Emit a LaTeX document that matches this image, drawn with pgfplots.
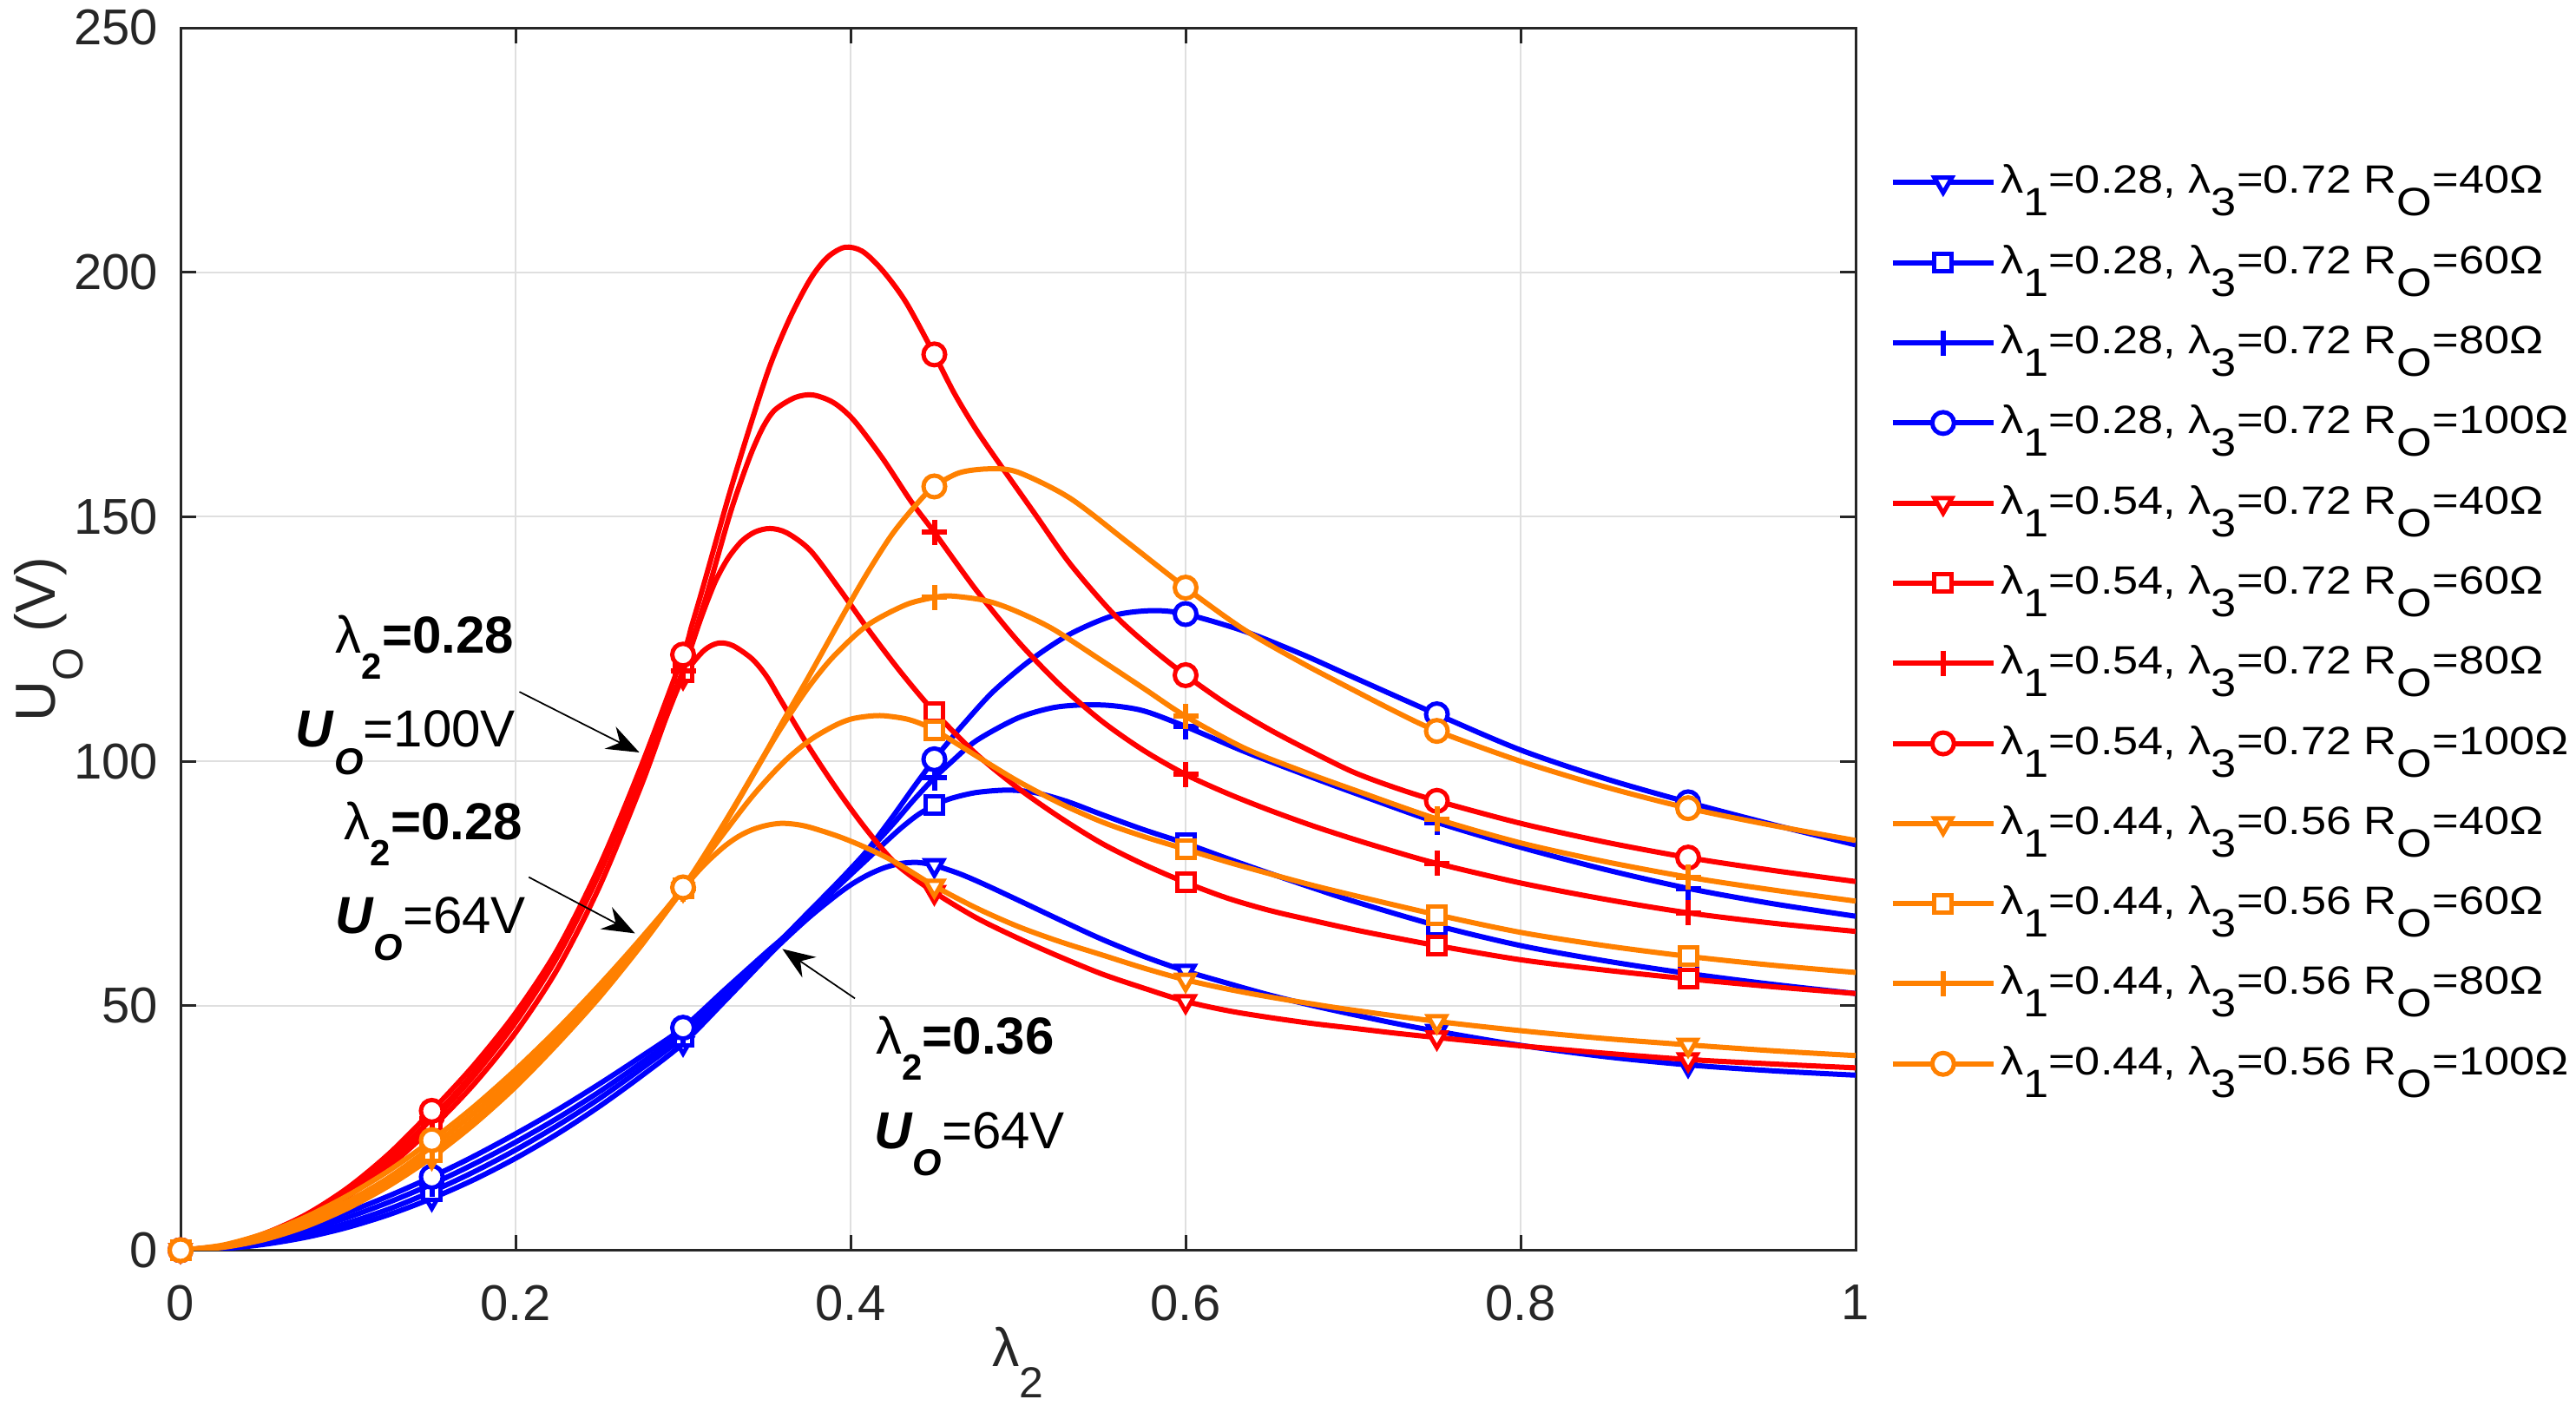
\documentclass[border=0pt]{standalone}
\usepackage{fontspec}
\setmainfont{Liberation Sans}
\usepackage{graphicx}
\usepackage{pgfplots}
\pgfplotsset{compat=1.18}
\usetikzlibrary{arrows.meta}
\definecolor{mblue}{RGB}{0,0,255}
\definecolor{mred}{RGB}{255,0,0}
\definecolor{morange}{RGB}{255,128,0}
\definecolor{axgray}{RGB}{38,38,38}
\definecolor{gridgray}{RGB}{223,223,223}
\pgfplotsset{
  ln/.style={line width=1.2pt},
  s40/.style={mark=triangle*, mark size=2.35pt, mark options={solid, rotate=180, fill=white, line width=1pt}},
  s60/.style={mark=square*, mark size=2.0pt, mark options={solid, fill=white, line width=1pt}},
  s80/.style={mark=+, mark size=2.9pt, mark options={solid, line width=1.2pt}},
  s100/.style={mark=*, mark size=2.5pt, mark options={solid, fill=white, line width=1pt}},
}
\newcommand{\sub}[1]{\raisebox{-5.2pt}{#1}}
\newcommand{\legtxt}[4]{\hspace*{1.0pt}\scalebox{1.15}[1]{λ\sub{1}=#1, λ\sub{3}=#2 R\sub{O}=#3Ω}}
\newcommand{\lamtwo}[1]{λ\raisebox{-6pt}{\fontsize{8.4}{9}\selectfont\bfseries 2}\textbf{=#1}}
\newcommand{\uo}[1]{\textbf{\textit{U}}\raisebox{-6.3pt}{\fontsize{8.6}{9}\selectfont\bfseries\itshape O}=#1V}
\begin{document}
\begin{tikzpicture}
\path[use as bounding box] (0pt,0pt) rectangle (593.6pt,323.8pt);
\begin{axis}[
  at={(41.6pt,35.7pt)}, anchor=south west,
  width=386pt, height=281.7pt, scale only axis,
  xmin=0, xmax=1, ymin=0, ymax=250,
  xtick={0,0.2,0.4,0.6,0.8,1}, xticklabels={0,0.2,0.4,0.6,0.8,1},
  ytick={0,50,100,150,200,250}, yticklabels={0,50,100,150,200,250},
  tick align=inside, major tick length=3.6pt,
  xtick pos=both, ytick pos=both,
  grid=major, major grid style={gridgray, line width=0.4pt},
  axis line style={axgray, line width=0.6pt},
  tick style={axgray, line width=0.6pt},
  /pgf/number format/assume math mode=true,
  ticklabel style={font=\fontsize{11.6}{13}\selectfont, text=axgray},
  xticklabel style={anchor=north, inner sep=0pt, yshift=-7.8pt},
  yticklabel style={anchor=east, inner sep=0pt, xshift=-5pt},
  clip mode=individual,
  xlabel={\fontsize{12.5}{14}\selectfont λ\raisebox{-7.2pt}{\fontsize{10}{11}\selectfont 2}},
  ylabel={\fontsize{13}{15}\selectfont U\raisebox{-6.4pt}{\fontsize{9.8}{10}\selectfont O} (V)},
  xlabel style={at={(axis description cs:0.5,-0.0948)}, anchor=base, text=axgray},
  ylabel style={at={(axis description cs:-0.0751,0.5)}, anchor=base, text=axgray},
  legend cell align=left,
  legend style={at={(1.0205,0.8964)}, anchor=north west, draw=none, fill=none,
    inner sep=0pt, outer sep=0pt, row sep=5.46pt,
    nodes={inner sep=0pt, text height=9pt, text depth=4pt, font=\fontsize{9.1}{10}\selectfont}},
  legend image code/.code={
    \draw[#1, mark=none] (0pt,0pt) -- (23.3pt,0pt);
    \draw[#1] plot coordinates {(11.65pt,0pt)};
  },
]
% ---------------- blue: lambda1=0.28, lambda3=0.72
\addplot[mblue, ln, smooth, forget plot] coordinates {(0,0) (0.025,0.3) (0.05,1.2) (0.075,2.65) (0.1,4.7) (0.125,7.35) (0.15,10.6) (0.175,14.4) (0.2,18.8) (0.225,23.8) (0.25,29.4) (0.275,35.6) (0.3,42.3) (0.325,51.0) (0.35,59.9) (0.36,63.3) (0.375,68.0) (0.39,72.2) (0.4,74.7) (0.41,76.7) (0.42,78.2) (0.43,79.1) (0.44,79.3) (0.45,78.7) (0.465,77.0) (0.48,74.8) (0.5,71.6) (0.529,66.9) (0.55,63.6) (0.575,60.1) (0.6,57.1) (0.625,54.6) (0.65,52.2) (0.675,50.1) (0.7,48.2) (0.725,46.4) (0.75,44.8) (0.8,41.9) (0.85,39.6) (0.9,37.9) (0.95,36.7) (1,35.8)};
\addplot[mblue, only marks, s40, forget plot] coordinates {(0,0) (0.15,10.6) (0.3,42.3) (0.45,78.7) (0.6,57.1) (0.75,44.8) (0.9,37.9)};
\addplot[mblue, ln, smooth, forget plot] coordinates {(0,0) (0.025,0.43) (0.05,1.6) (0.075,3.3) (0.1,5.6) (0.125,8.5) (0.15,12.0) (0.175,16.0) (0.2,20.5) (0.225,25.5) (0.25,31.0) (0.275,37.1) (0.3,43.6) (0.325,52.0) (0.35,60.5) (0.36,63.8) (0.375,68.8) (0.39,73.6) (0.4,76.8) (0.41,80.0) (0.42,83.2) (0.43,86.3) (0.44,89.0) (0.45,91.0) (0.46,92.4) (0.475,93.6) (0.4936,94.1) (0.51,93.6) (0.529,91.8) (0.55,89.1) (0.575,86.0) (0.6,83.2) (0.625,80.1) (0.65,77.1) (0.675,74.2) (0.7,71.4) (0.75,66.4) (0.8,62.3) (0.85,59.2) (0.9,56.6) (0.95,54.4) (1,52.5)};
\addplot[mblue, only marks, s60, forget plot] coordinates {(0,0) (0.15,12.0) (0.3,43.6) (0.45,91.0) (0.6,83.2) (0.75,66.4) (0.9,56.6)};
\addplot[mblue, ln, smooth, forget plot] coordinates {(0,0) (0.025,0.62) (0.05,2.03) (0.075,4.1) (0.1,6.73) (0.125,9.9) (0.15,13.5) (0.175,17.6) (0.2,22.1) (0.225,27.0) (0.25,32.4) (0.275,38.3) (0.3,44.6) (0.325,52.6) (0.35,60.7) (0.36,63.9) (0.375,69.0) (0.39,74.3) (0.4,77.8) (0.41,81.4) (0.425,87.0) (0.4375,92.0) (0.45,96.6) (0.46,99.8) (0.475,104.2) (0.4996,108.8) (0.52,110.9) (0.537,111.5) (0.555,111.4) (0.575,110.3) (0.6,107.1) (0.635,102.0) (0.67,97.4) (0.7,93.6) (0.75,87.5) (0.8,82.4) (0.85,77.9) (0.9,74.0) (0.95,70.9) (1,68.3)};
\addplot[mblue, only marks, s80, forget plot] coordinates {(0,0) (0.15,13.5) (0.3,44.6) (0.45,96.6) (0.6,107.1) (0.75,87.5) (0.9,74.0)};
\addplot[mblue, ln, smooth, forget plot] coordinates {(0,0) (0.025,0.85) (0.05,2.6) (0.075,4.95) (0.1,7.8) (0.125,11.2) (0.15,15.0) (0.175,19.2) (0.2,23.8) (0.225,28.7) (0.25,34.0) (0.275,39.6) (0.3,45.5) (0.325,53.3) (0.35,61.0) (0.36,64.0) (0.375,69.2) (0.39,74.4) (0.4,78.0) (0.41,81.8) (0.425,88.6) (0.4375,94.6) (0.45,100.4) (0.46,104.6) (0.4674,107.6) (0.485,114.2) (0.5071,120.6) (0.531,126.0) (0.557,129.8) (0.58,130.8) (0.6,130.1) (0.635,126.6) (0.67,121.8) (0.7,117.2) (0.75,109.6) (0.8,102.3) (0.85,96.5) (0.9,91.6) (0.95,87.1) (1,82.9)};
\addplot[mblue, only marks, s100, forget plot] coordinates {(0,0) (0.15,15.0) (0.3,45.5) (0.45,100.4) (0.6,130.1) (0.75,109.6) (0.9,91.6)};
% ---------------- red: lambda1=0.54, lambda3=0.72
\addplot[mred, ln, smooth, forget plot] coordinates {(0,0) (0.025,0.75) (0.05,2.9) (0.075,6.3) (0.1,11.1) (0.125,17.3) (0.15,25.0) (0.175,33.9) (0.2,44.5) (0.225,57.5) (0.25,74.3) (0.275,95.0) (0.29,109.0) (0.3,117.2) (0.31,121.8) (0.316,123.5) (0.3223,124.2) (0.33,123.6) (0.3413,120.9) (0.35,117.3) (0.3585,112.4) (0.3757,102.6) (0.393,93.7) (0.41,85.8) (0.4275,78.9) (0.45,73.2) (0.475,68.0) (0.5,63.8) (0.525,60.0) (0.55,56.5) (0.575,53.6) (0.6,50.9) (0.625,49.0) (0.65,47.6) (0.675,46.4) (0.7,45.4) (0.725,44.4) (0.75,43.5) (0.8,41.8) (0.85,40.3) (0.9,39.0) (0.95,38.1) (1,37.3)};
\addplot[mred, only marks, s40, forget plot] coordinates {(0,0) (0.15,25.0) (0.3,117.2) (0.45,73.2) (0.6,50.9) (0.75,43.5) (0.9,39.0)};
\addplot[mred, ln, smooth, forget plot] coordinates {(0,0) (0.025,0.8) (0.05,3.1) (0.075,6.7) (0.1,11.8) (0.125,18.3) (0.15,26.3) (0.175,35.6) (0.2,46.6) (0.225,60.0) (0.25,77.0) (0.275,97.3) (0.3,118.2) (0.305,123.5) (0.31,128.6) (0.315,133.2) (0.32,137.3) (0.327,141.6) (0.335,145.0) (0.343,146.9) (0.352,147.6) (0.362,146.7) (0.376,143.1) (0.393,135.4) (0.41,127.2) (0.43,118.2) (0.45,110.1) (0.475,101.5) (0.5,94.5) (0.525,88.5) (0.55,83.2) (0.575,78.9) (0.6,75.2) (0.625,72.0) (0.65,69.5) (0.675,67.5) (0.7,65.6) (0.725,63.9) (0.75,62.3) (0.8,59.4) (0.85,57.3) (0.9,55.5) (0.95,53.9) (1,52.5)};
\addplot[mred, only marks, s60, forget plot] coordinates {(0,0) (0.15,26.3) (0.3,118.2) (0.45,110.1) (0.6,75.2) (0.75,62.3) (0.9,55.5)};
\addplot[mred, ln, smooth, forget plot] coordinates {(0,0) (0.025,0.85) (0.05,3.2) (0.075,6.9) (0.1,12.1) (0.125,18.8) (0.15,26.9) (0.175,36.3) (0.2,47.3) (0.225,60.8) (0.25,77.8) (0.275,98.0) (0.3,118.5) (0.305,124.0) (0.31,129.5) (0.3154,135.5) (0.3275,150.0) (0.335,157.7) (0.3413,163.5) (0.348,168.5) (0.355,171.9) (0.367,174.4) (0.3776,174.9) (0.39,173.3) (0.402,169.7) (0.419,162.0) (0.436,153.2) (0.45,146.8) (0.475,135.0) (0.5,124.5) (0.525,115.6) (0.55,108.2) (0.575,102.2) (0.6,97.3) (0.625,93.4) (0.65,90.0) (0.675,86.9) (0.7,84.1) (0.725,81.5) (0.75,79.1) (0.8,75.1) (0.85,71.8) (0.9,69.0) (0.95,66.9) (1,65.2)};
\addplot[mred, only marks, s80, forget plot] coordinates {(0,0) (0.15,26.9) (0.3,118.5) (0.45,146.8) (0.6,97.3) (0.75,79.1) (0.9,69.0)};
\addplot[mred, ln, smooth, forget plot] coordinates {(0,0) (0.025,0.9) (0.05,3.4) (0.075,7.3) (0.1,12.8) (0.125,19.9) (0.15,28.5) (0.175,37.8) (0.2,48.5) (0.225,61.5) (0.25,78.5) (0.275,99.0) (0.3,121.8) (0.305,127.5) (0.31,133.3) (0.3154,139.8) (0.3275,154.5) (0.34,168.5) (0.352,181.0) (0.364,190.8) (0.376,198.6) (0.386,203.0) (0.3965,205.1) (0.407,204.3) (0.419,200.4) (0.433,193.9) (0.45,183.2) (0.462,175.2) (0.475,167.8) (0.49,160.3) (0.51,150.6) (0.531,140.4) (0.557,130.1) (0.58,123.0) (0.6,117.6) (0.625,111.6) (0.65,106.5) (0.675,102.0) (0.7,97.8) (0.725,94.6) (0.75,91.9) (0.8,87.3) (0.85,83.5) (0.9,80.3) (0.95,77.7) (1,75.4)};
\addplot[mred, only marks, s100, forget plot] coordinates {(0,0) (0.15,28.5) (0.3,121.8) (0.45,183.2) (0.6,117.6) (0.75,91.9) (0.9,80.3)};
% ---------------- orange: lambda1=0.44, lambda3=0.56
\addplot[morange, ln, smooth, forget plot] coordinates {(0,0) (0.025,0.57) (0.05,2.19) (0.075,4.89) (0.1,8.6) (0.125,13.3) (0.15,19.0) (0.175,25.7) (0.2,33.4) (0.225,42.2) (0.25,51.7) (0.275,62.3) (0.3,73.8) (0.312,78.6) (0.324,82.4) (0.333,84.6) (0.3413,86.0) (0.35,86.9) (0.3585,87.3) (0.367,87.1) (0.3757,86.5) (0.393,84.6) (0.41,82.2) (0.4275,79.2) (0.45,74.5) (0.475,70.0) (0.5,66.2) (0.525,63.1) (0.55,60.4) (0.575,57.7) (0.6,55.3) (0.625,53.4) (0.65,51.8) (0.675,50.4) (0.7,49.1) (0.75,46.8) (0.8,44.9) (0.85,43.3) (0.9,42.0) (0.95,40.8) (1,39.8)};
\addplot[morange, only marks, s40, forget plot] coordinates {(0,0) (0.15,19.0) (0.3,73.8) (0.45,74.5) (0.6,55.3) (0.75,46.8) (0.9,42.0)};
\addplot[morange, ln, smooth, forget plot] coordinates {(0,0) (0.025,0.68) (0.05,2.5) (0.075,5.4) (0.1,9.3) (0.125,14.1) (0.15,20.0) (0.175,26.7) (0.2,34.4) (0.225,43.0) (0.25,52.5) (0.275,63.0) (0.3,74.1) (0.32,83.3) (0.3413,92.8) (0.36,99.8) (0.3757,104.3) (0.39,107.2) (0.4,108.6) (0.4104,109.2) (0.42,109.3) (0.435,108.5) (0.45,106.4) (0.475,101.1) (0.5,95.9) (0.525,91.4) (0.55,87.6) (0.575,84.6) (0.6,82.0) (0.625,79.4) (0.65,77.0) (0.675,74.7) (0.7,72.6) (0.75,68.6) (0.8,65.0) (0.85,62.3) (0.9,60.1) (0.95,58.3) (1,56.8)};
\addplot[morange, only marks, s60, forget plot] coordinates {(0,0) (0.15,20.0) (0.3,74.1) (0.45,106.4) (0.6,82.0) (0.75,68.6) (0.9,60.1)};
\addplot[morange, ln, smooth, forget plot] coordinates {(0,0) (0.025,0.84) (0.05,2.94) (0.075,6.09) (0.1,10.0) (0.125,15.0) (0.15,21.2) (0.175,28.0) (0.2,35.6) (0.225,43.9) (0.25,52.9) (0.275,62.9) (0.3,73.9) (0.325,87.3) (0.35,102.0) (0.36,107.6) (0.375,115.2) (0.39,121.5) (0.41,127.8) (0.433,132.0) (0.45,133.5) (0.46,133.8) (0.48,132.9) (0.4967,131.0) (0.52,127.2) (0.5485,120.9) (0.575,114.9) (0.6,109.2) (0.635,102.7) (0.6694,98.0) (0.7,94.2) (0.75,88.2) (0.8,83.3) (0.85,79.5) (0.9,76.3) (0.95,73.7) (1,71.4)};
\addplot[morange, only marks, s80, forget plot] coordinates {(0,0) (0.15,21.2) (0.3,73.9) (0.45,133.5) (0.6,109.2) (0.75,88.2) (0.9,76.3)};
\addplot[morange, ln, smooth, forget plot] coordinates {(0,0) (0.025,1.03) (0.05,3.4) (0.075,6.83) (0.1,11.2) (0.125,16.4) (0.15,22.5) (0.175,29.3) (0.2,36.9) (0.225,45.2) (0.25,54.2) (0.275,63.8) (0.3,74.2) (0.325,87.6) (0.35,102.2) (0.3585,107.5) (0.375,117.3) (0.3965,130.5) (0.41,138.5) (0.425,146.5) (0.44,152.8) (0.45,156.2) (0.465,159.0) (0.483,159.8) (0.5,159.1) (0.531,153.8) (0.566,144.6) (0.6,135.5) (0.635,126.9) (0.67,120.0) (0.7,114.6) (0.725,110.2) (0.75,106.2) (0.8,100.0) (0.85,94.8) (0.9,90.4) (0.95,86.9) (1,83.8)};
\addplot[morange, only marks, s100, forget plot] coordinates {(0,0) (0.15,22.5) (0.3,74.2) (0.45,156.2) (0.6,135.5) (0.75,106.2) (0.9,90.4)};
% ---------------- legend
\addlegendimage{mblue, ln, s40}\addlegendentry{\legtxt{0.28}{0.72}{40}{}}
\addlegendimage{mblue, ln, s60}\addlegendentry{\legtxt{0.28}{0.72}{60}{}}
\addlegendimage{mblue, ln, s80}\addlegendentry{\legtxt{0.28}{0.72}{80}{}}
\addlegendimage{mblue, ln, s100}\addlegendentry{\legtxt{0.28}{0.72}{100}{}}
\addlegendimage{mred, ln, s40}\addlegendentry{\legtxt{0.54}{0.72}{40}{}}
\addlegendimage{mred, ln, s60}\addlegendentry{\legtxt{0.54}{0.72}{60}{}}
\addlegendimage{mred, ln, s80}\addlegendentry{\legtxt{0.54}{0.72}{80}{}}
\addlegendimage{mred, ln, s100}\addlegendentry{\legtxt{0.54}{0.72}{100}{}}
\addlegendimage{morange, ln, s40}\addlegendentry{\legtxt{0.44}{0.56}{40}{}}
\addlegendimage{morange, ln, s60}\addlegendentry{\legtxt{0.44}{0.56}{60}{}}
\addlegendimage{morange, ln, s80}\addlegendentry{\legtxt{0.44}{0.56}{80}{}}
\addlegendimage{morange, ln, s100}\addlegendentry{\legtxt{0.44}{0.56}{100}{}}
% ---------------- annotations
\begin{scope}[every node/.style={inner sep=0pt, font=\fontsize{12}{14}\selectfont}]
\node[anchor=base east] at (axis cs:0.1995,122.1) {\lamtwo{0.28}};
\node[anchor=base east] at (axis cs:0.2005,102.9) {\uo{100}};
\node[anchor=base east] at (axis cs:0.2047,84.0) {\lamtwo{0.28}};
\node[anchor=base east] at (axis cs:0.2067,64.8) {\uo{64}};
\node[anchor=base west] at (axis cs:0.4147,40.2) {\lamtwo{0.36}};
\node[anchor=base west] at (axis cs:0.4135,20.8) {\uo{64}};
\end{scope}
\begin{scope}[-{Stealth[length=7.5pt,width=5.7pt,inset=2.5pt]}, line width=0.35pt, black]
\draw (axis cs:0.2023,114.2) -- (axis cs:0.2739,101.8);
\draw (axis cs:0.2079,76.3) -- (axis cs:0.2713,64.8);
\draw (axis cs:0.4026,51.5) -- (axis cs:0.3593,61.6);
\end{scope}
\end{axis}
\end{tikzpicture}
\end{document}
